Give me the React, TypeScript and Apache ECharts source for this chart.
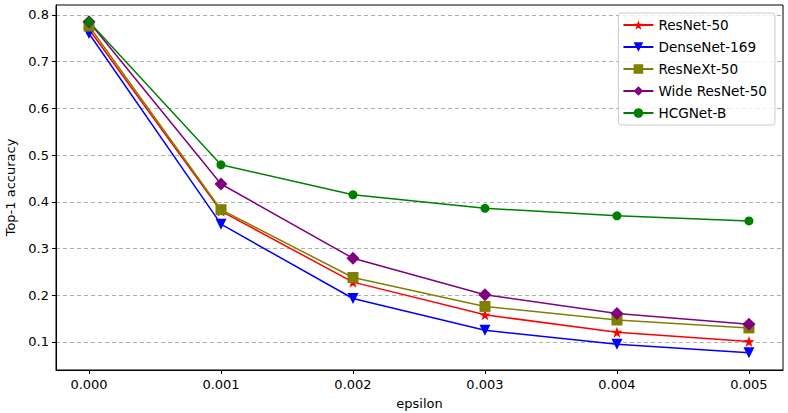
import React, { useEffect, useRef } from "react";
import * as echarts from "echarts";

const epsilons = [0.0, 0.001, 0.002, 0.003, 0.004, 0.005];
const xTickLabels = ["0.000", "0.001", "0.002", "0.003", "0.004", "0.005"];
const yTicks = [0.1, 0.2, 0.3, 0.4, 0.5, 0.6, 0.7, 0.8];

const seriesNames = ["ResNet-50", "DenseNet-169", "ResNeXt-50", "Wide ResNet-50", "HCGNet-B"];
const resnet50 = [0.769, 0.38, 0.228, 0.158, 0.121, 0.101];
const densenet169 = [0.76, 0.352, 0.193, 0.125, 0.095, 0.077];
const resnext50 = [0.776, 0.383, 0.238, 0.176, 0.147, 0.130];
const wideResnet50 = [0.785, 0.438, 0.279, 0.201, 0.161, 0.138];
const hcgnetB = [0.785, 0.479, 0.415, 0.386, 0.370, 0.359];

const STAR =
  "path://M0,-10 L2.35,-3.24 L9.51,-3.09 L3.8,1.24 L5.88,8.09 L0,4 L-5.88,8.09 L-3.8,1.24 L-9.51,-3.09 L-2.35,-3.24 Z";

const FONT = "DejaVu Sans";

export default function App() {
  const ref = useRef<HTMLDivElement>(null);
  useEffect(() => {
    if (!ref.current) return;
    const chart = echarts.init(ref.current, null, { renderer: "svg" });
    const mk = (
      name: string,
      vals: number[],
      color: string,
      symbol: string,
      size: number,
      rotate = 0
    ) => ({
      name,
      type: "line",
      data: epsilons.map((e, i) => [e, vals[i]]),
      symbol,
      symbolSize: size,
      symbolRotate: rotate,
      showAllSymbol: true,
      lineStyle: { color, width: 1.5 },
      itemStyle: { color, borderWidth: 0 },
      emphasis: { disabled: true },
    });
    chart.setOption({
      animation: false,
      textStyle: { fontFamily: FONT },
      grid: {
        left: 56,
        right: 5,
        top: 5,
        bottom: 43,
        show: true,
        borderColor: "#000",
        borderWidth: 1,
        containLabel: false,
        outerBoundsMode: "none",
      },
      legend: {
        orient: "vertical",
        right: 13,
        top: 13,
        padding: [5, 8, 5, 4],
        itemWidth: 30,
        itemHeight: 12,
        itemGap: 8,
        itemTextGap: 10,
        backgroundColor: "rgba(255,255,255,0.8)",
        borderColor: "#cccccc",
        borderWidth: 1,
        borderRadius: 3,
        textStyle: { fontFamily: FONT, fontSize: 13.6, color: "#000" },
        data: seriesNames,
      },
      xAxis: {
        type: "value",
        min: -0.00025,
        max: 0.005258,
        name: "epsilon",
        nameLocation: "middle",
        nameGap: 27,
        nameTextStyle: { fontFamily: FONT, fontSize: 13, color: "#000" },
        axisLine: { show: true, onZero: false, lineStyle: { color: "#000", width: 1 } },
        axisTick: { show: true, inside: false, length: 4, customValues: epsilons, lineStyle: { color: "#000" } },
        axisLabel: {
          customValues: epsilons,
          formatter: (v: number) => xTickLabels[Math.round(v * 1000)] ?? "",
          fontFamily: FONT,
          fontSize: 13,
          color: "#000",
          margin: 8,
        },
        splitLine: { show: false },
      },
      yAxis: {
        type: "value",
        min: 0.04,
        max: 0.821,
        name: "Top-1 accuracy",
        nameLocation: "middle",
        nameGap: 37,
        nameTextStyle: { fontFamily: FONT, fontSize: 13, color: "#000" },
        axisLine: { show: true, onZero: false, lineStyle: { color: "#000", width: 1 } },
        axisTick: { show: true, inside: false, length: 4, customValues: yTicks, lineStyle: { color: "#000" } },
        axisLabel: {
          customValues: yTicks,
          formatter: (v: number) => v.toFixed(1),
          fontFamily: FONT,
          fontSize: 13,
          color: "#000",
          margin: 7,
        },
        splitLine: { show: true, lineStyle: { color: "#b0b0b0", type: [4, 3], width: 1 } },
      },
      series: [
        mk(seriesNames[0], resnet50, "#ff0000", STAR, 11),
        mk(seriesNames[1], densenet169, "#0000ff", "triangle", 11, 180),
        mk(seriesNames[2], resnext50, "#808000", "rect", 11),
        mk(seriesNames[3], wideResnet50, "#800080", "diamond", 13),
        mk(seriesNames[4], hcgnetB, "#008000", "circle", 9),
      ],
    });
    return () => chart.dispose();
  }, []);
  return (
    <div
      ref={ref}
      style={{ position: "fixed", left: 0, top: 0, width: 788, height: 413, background: "#fff" }}
    />
  );
}
